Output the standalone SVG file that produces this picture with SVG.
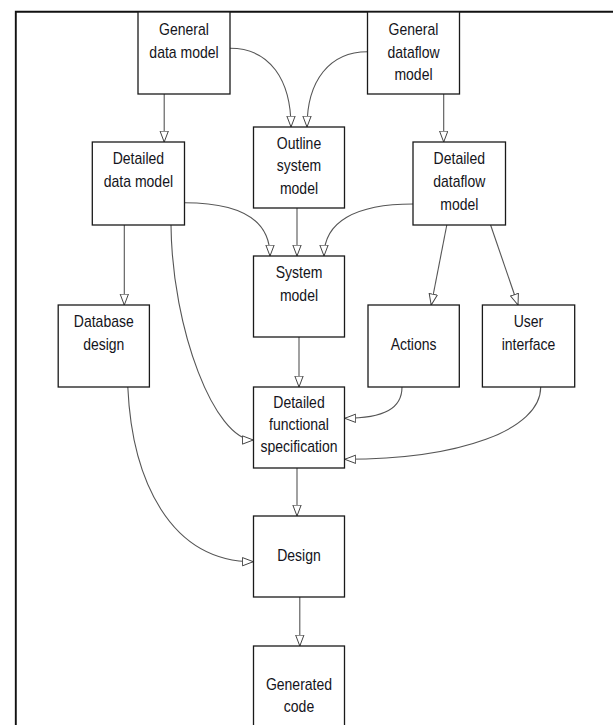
<svg xmlns="http://www.w3.org/2000/svg" width="613" height="725" viewBox="0 0 613 725">
<style>
.box{fill:#fff;stroke:#1a1a1a;stroke-width:1.3}
.t{font-family:"Liberation Sans Narrow","Liberation Sans",Arial,sans-serif;font-size:17px;fill:#141420;text-anchor:middle}
.c{fill:none;stroke:#555;stroke-width:1.1;marker-end:url(#ah)}
.frame{stroke:#111;stroke-width:1.9;fill:none}
</style>
<defs>
<marker id="ah" markerUnits="userSpaceOnUse" markerWidth="13" markerHeight="11" refX="11.5" refY="4.75" orient="auto" viewBox="0 0 13 11">
<path d="M0.6,0.6 L11.5,4.75 L0.6,8.9 Z" fill="#fff" stroke="#444" stroke-width="1"/>
</marker>
</defs>
<rect width="613" height="725" fill="#fff"/>
<g id="frame">
<path class="frame" d="M15.8,725 L15.8,11.7 L613,11.7"/>
</g>
<g id="connectors">
<path class="c" d="M164.2,94 L164.2,142"/>
<path class="c" d="M443.7,94 L443.7,142"/>
<path class="c" d="M230,48.3 C270,48.3 291,80 291,127"/>
<path class="c" d="M367.5,51.7 C330,51.7 307,80 307,127"/>
<path class="c" d="M297,208 L297,256"/>
<path class="c" d="M184.5,202.7 C240,202.7 270,220 270,256"/>
<path class="c" d="M413,204 C355,204 324,222 324,256"/>
<path class="c" d="M124.3,225 L124.3,305"/>
<path class="c" d="M171,225 C172,330 215,440 253.3,440"/>
<path class="c" d="M446.8,225 L431.2,305"/>
<path class="c" d="M490.6,225 L518,305"/>
<path class="c" d="M299,337 L299,387"/>
<path class="c" d="M402,387 C402,408 385,418.3 344.8,418.3"/>
<path class="c" d="M540.7,387 C540.7,430 460,459.3 344.8,459.3"/>
<path class="c" d="M297,468 L297,516"/>
<path class="c" d="M127.8,387 C132,480 170,561.7 253.3,561.7"/>
<path class="c" d="M299.8,597 L299.8,646"/>
</g>
<g id="general-data-model">
<rect class="box" x="138" y="12" width="92" height="82"/>
<text class="t" x="184" y="35" textLength="49.8" lengthAdjust="spacingAndGlyphs">General</text>
<text class="t" x="184" y="57.5" textLength="69.3" lengthAdjust="spacingAndGlyphs">data model</text>
</g>
<g id="general-dataflow-model">
<rect class="box" x="367.5" y="12" width="92" height="82"/>
<text class="t" x="413.5" y="35" textLength="49.8" lengthAdjust="spacingAndGlyphs">General</text>
<text class="t" x="413.5" y="57.5" textLength="52.1" lengthAdjust="spacingAndGlyphs">dataflow</text>
<text class="t" x="413.5" y="80" textLength="38.1" lengthAdjust="spacingAndGlyphs">model</text>
</g>
<g id="outline-system-model">
<rect class="box" x="253.5" y="127" width="91" height="81"/>
<text class="t" x="299" y="148.5" textLength="44.4" lengthAdjust="spacingAndGlyphs">Outline</text>
<text class="t" x="299" y="171" textLength="44.3" lengthAdjust="spacingAndGlyphs">system</text>
<text class="t" x="299" y="193.5" textLength="38.1" lengthAdjust="spacingAndGlyphs">model</text>
</g>
<g id="detailed-data-model">
<rect class="box" x="92.3" y="142" width="92.2" height="83"/>
<text class="t" x="138.4" y="164.3" textLength="51.4" lengthAdjust="spacingAndGlyphs">Detailed</text>
<text class="t" x="138.4" y="187" textLength="69.3" lengthAdjust="spacingAndGlyphs">data model</text>
</g>
<g id="detailed-dataflow-model">
<rect class="box" x="413" y="142" width="92.5" height="83"/>
<text class="t" x="459.3" y="164.3" textLength="51.4" lengthAdjust="spacingAndGlyphs">Detailed</text>
<text class="t" x="459.3" y="187" textLength="52.1" lengthAdjust="spacingAndGlyphs">dataflow</text>
<text class="t" x="459.3" y="209.5" textLength="38.1" lengthAdjust="spacingAndGlyphs">model</text>
</g>
<g id="system-model">
<rect class="box" x="253.5" y="256" width="91" height="81"/>
<text class="t" x="299" y="278" textLength="46.7" lengthAdjust="spacingAndGlyphs">System</text>
<text class="t" x="299" y="301" textLength="38.1" lengthAdjust="spacingAndGlyphs">model</text>
</g>
<g id="database-design">
<rect class="box" x="58.2" y="305" width="91.2" height="82"/>
<text class="t" x="103.8" y="327" textLength="59.9" lengthAdjust="spacingAndGlyphs">Database</text>
<text class="t" x="103.8" y="349.5" textLength="41.2" lengthAdjust="spacingAndGlyphs">design</text>
</g>
<g id="actions">
<rect class="box" x="368" y="305" width="91.3" height="82"/>
<text class="t" x="413.6" y="349.5" textLength="45.9" lengthAdjust="spacingAndGlyphs">Actions</text>
</g>
<g id="user-interface">
<rect class="box" x="482.4" y="305" width="92.3" height="82"/>
<text class="t" x="528.5" y="327" textLength="29.6" lengthAdjust="spacingAndGlyphs">User</text>
<text class="t" x="528.5" y="349.5" textLength="53.7" lengthAdjust="spacingAndGlyphs">interface</text>
</g>
<g id="detailed-functional-specification">
<rect class="box" x="253.5" y="387" width="91" height="81"/>
<text class="t" x="299" y="408" textLength="51.4" lengthAdjust="spacingAndGlyphs">Detailed</text>
<text class="t" x="299" y="430.3" textLength="59.9" lengthAdjust="spacingAndGlyphs">functional</text>
<text class="t" x="299" y="452.3" textLength="77" lengthAdjust="spacingAndGlyphs">specification</text>
</g>
<g id="design">
<rect class="box" x="253.5" y="516" width="91" height="81"/>
<text class="t" x="299" y="561" textLength="43.6" lengthAdjust="spacingAndGlyphs">Design</text>
</g>
<g id="generated-code">
<rect class="box" x="253.5" y="646" width="91" height="82"/>
<text class="t" x="299" y="690" textLength="66.2" lengthAdjust="spacingAndGlyphs">Generated</text>
<text class="t" x="299" y="712" textLength="30.4" lengthAdjust="spacingAndGlyphs">code</text>
</g>
</svg>
